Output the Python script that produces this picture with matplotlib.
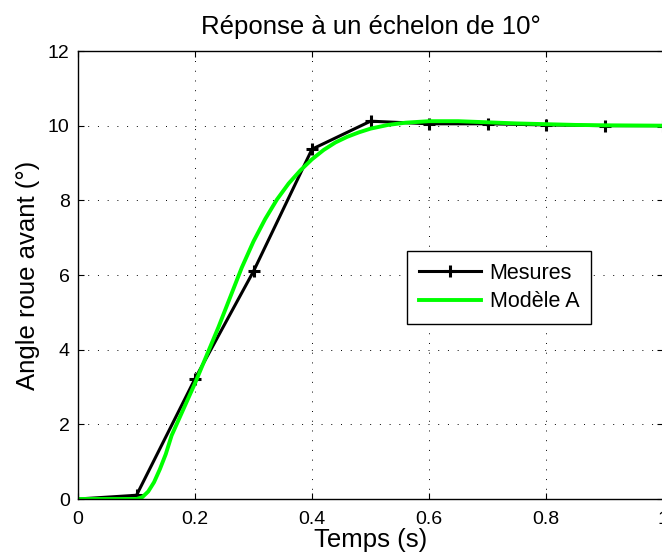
import matplotlib
matplotlib.use("Agg")
import matplotlib.pyplot as plt

plt.rcParams['font.family'] = ['Liberation Sans', 'DejaVu Sans']

# Data
t_meas = [0.0, 0.1, 0.2, 0.3, 0.4, 0.5, 0.6, 0.7, 0.8, 0.9, 1.0]
v_meas = [0.0, 0.1, 3.22, 6.1, 9.37, 10.12, 10.05, 10.05, 10.02, 10.0, 10.0]

t_model = [0.0, 0.1, 0.11, 0.12, 0.13, 0.14, 0.15, 0.16, 0.18, 0.2, 0.22, 0.24,
           0.26, 0.28, 0.3, 0.32, 0.34, 0.36, 0.38, 0.4, 0.42, 0.44, 0.46, 0.48,
           0.5, 0.53, 0.56, 0.6, 0.65, 0.7, 0.75, 0.8, 0.85, 0.9, 1.0]
v_model = [0.0, 0.0, 0.05, 0.2, 0.45, 0.8, 1.2, 1.7, 2.4, 3.1, 3.85, 4.6,
           5.4, 6.2, 6.9, 7.5, 8.02, 8.45, 8.8, 9.1, 9.35, 9.55, 9.7, 9.82,
           9.92, 10.02, 10.08, 10.12, 10.12, 10.09, 10.06, 10.04, 10.02, 10.01, 10.0]

xticks = [0, 0.2, 0.4, 0.6, 0.8, 1]
xticklabels = ['0', '0.2', '0.4', '0.6', '0.8', '1']
yticks = [0, 2, 4, 6, 8, 10, 12]
yticklabels = ['0', '2', '4', '6', '8', '10', '12']

title = "Réponse à un échelon de 10°"
xlabel = "Temps (s)"
ylabel = "Angle roue avant (°)"
labels = ["Mesures", "Modèle A"]

fig = plt.figure(figsize=(6.62, 5.58), dpi=100)
ax = fig.add_axes([78/662, 59/558, (663-78)/662, 448/558])

ax.plot(t_meas, v_meas, color='black', lw=2.2, marker='+', markersize=8,
        markeredgewidth=2.2, markevery=slice(1, None), label=labels[0])
ax.plot(t_model, v_model, color=(0, 1, 0), lw=2.8, label=labels[1])

ax.set_xlim(0, 1)
ax.set_ylim(0, 12)
ax.set_xticks(xticks)
ax.set_xticklabels(xticklabels)
ax.set_yticks(yticks)
ax.set_yticklabels(yticklabels)
ax.tick_params(direction='in', length=4, width=0.8, labelsize=14,
               top=True, right=True, pad=6)
ax.tick_params(axis='x', pad=9)
ax.grid(True, color='black', linestyle=(0, (1, 9)), lw=0.7)
for s in ax.spines.values():
    s.set_linewidth(1.0)

ax.set_title(title, fontsize=18.5, pad=12)
ax.set_xlabel(xlabel, fontsize=18.5, labelpad=0)
ax.set_ylabel(ylabel, fontsize=18.5, labelpad=6)

leg = ax.legend(loc='lower left', bbox_to_anchor=(0.562, 0.39), fontsize=15.5,
                frameon=True, fancybox=False, framealpha=1, edgecolor='black',
                handlelength=2.9, handletextpad=0.4, labelspacing=0.35,
                borderpad=0.55, borderaxespad=0)
leg.get_frame().set_linewidth(1.0)

fig.savefig("out.png", dpi=100)
